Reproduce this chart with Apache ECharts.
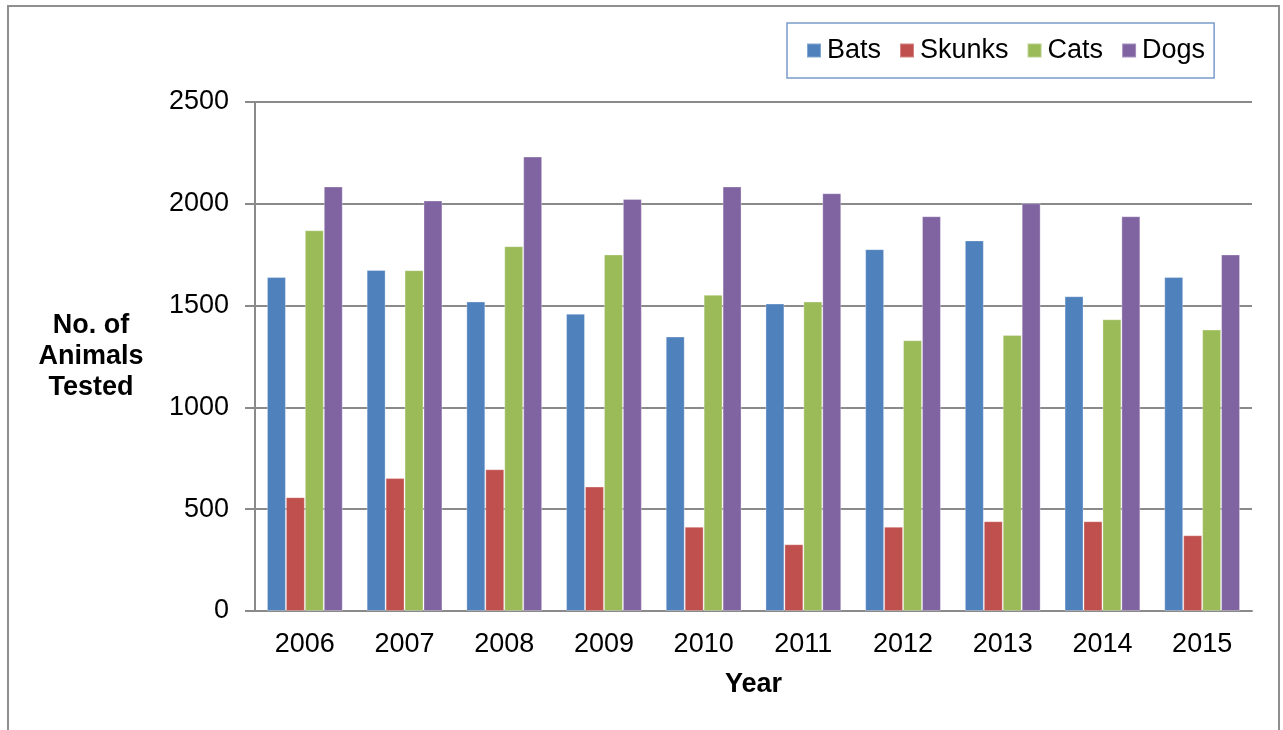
<!DOCTYPE html>
<html>
<head>
<meta charset="utf-8">
<title>No. of Animals Tested by Year</title>
<script src="https://cdn.jsdelivr.net/npm/echarts@6/dist/echarts.min.js"></script>
<style>
  html, body { margin: 0; padding: 0; background: #ffffff; }
  #chart { width: 1283px; height: 730px; }
</style>
</head>
<body>
<div id="chart"></div>
<script>
// Animals tested per year, by species
const years = ['2006', '2007', '2008', '2009', '2010', '2011', '2012', '2013', '2014', '2015'];
const bats   = [1640, 1675, 1520, 1460, 1348, 1510, 1777, 1820, 1546, 1640];
const skunks = [559, 653, 696, 611, 414, 328, 414, 441, 441, 372];
const cats   = [1870, 1674, 1792, 1751, 1553, 1520, 1330, 1356, 1433, 1382];
const dogs   = [2085, 2016, 2232, 2024, 2085, 2052, 1939, 2003, 1939, 1751];
const yTicks = { min: 0, max: 2500, step: 500 };

const FONT = '"Liberation Sans", Arial, sans-serif';
const GRID_GRAY = '#8a8a8a';
const FS = 27;

const seriesDefs = [
  { name: 'Bats',   data: bats,   color: '#4F81BD' },
  { name: 'Skunks', data: skunks, color: '#C0504D' },
  { name: 'Cats',   data: cats,   color: '#9BBB59' },
  { name: 'Dogs',   data: dogs,   color: '#8064A2' }
];

const chart = echarts.init(document.getElementById('chart'), null, { renderer: 'canvas' });

chart.setOption({
  animation: false,
  backgroundColor: '#ffffff',
  textStyle: { fontFamily: FONT },
  graphic: [
    {
      type: 'rect',
      shape: { x: 8, y: 6, width: 1271, height: 740 },
      style: { fill: 'none', stroke: '#8f8f8f', lineWidth: 2 },
      silent: true,
      z: -1
    }
  ],
  legend: {
    data: seriesDefs.map(s => s.name),
    left: 787,
    top: 23,
    icon: 'rect',
    itemWidth: 14,
    itemHeight: 14,
    itemGap: 18,
    padding: [14, 9, 14, 19],
    borderColor: '#7a9ccc',
    borderWidth: 1.5,
    textStyle: { fontFamily: FONT, fontSize: FS, color: '#000000', padding: [0, 0, 0, 1] }
  },
  grid: {
    left: 255,
    right: 31,
    top: 102,
    bottom: 119,
    containLabel: false
  },
  xAxis: {
    type: 'category',
    data: years,
    name: 'Year',
    nameLocation: 'middle',
    nameGap: 74,
    nameTextStyle: { fontFamily: FONT, fontSize: FS, fontWeight: 'bold', color: '#000000', verticalAlign: 'middle' },
    axisLine: { show: true, lineStyle: { color: GRID_GRAY, width: 2 } },
    axisTick: { show: false },
    axisLabel: { fontFamily: FONT, fontSize: FS, color: '#000000', margin: 20 },
    splitLine: { show: false }
  },
  yAxis: {
    type: 'value',
    min: yTicks.min,
    max: yTicks.max,
    interval: yTicks.step,
    name: 'No. of\nAnimals\nTested',
    nameLocation: 'middle',
    nameRotate: 0,
    nameGap: 164,
    nameTextStyle: {
      fontFamily: FONT, fontSize: FS, fontWeight: 'bold', color: '#000000',
      align: 'center', verticalAlign: 'middle', lineHeight: 31
    },
    axisLine: { show: true, lineStyle: { color: GRID_GRAY, width: 2 } },
    axisTick: { show: true, length: 10, lineStyle: { color: GRID_GRAY, width: 2 } },
    axisLabel: {
      fontFamily: FONT, fontSize: FS, color: '#000000', margin: 26,
      formatter: v => String(v)
    },
    splitLine: { show: true, lineStyle: { color: GRID_GRAY, width: 2 } }
  },
  series: seriesDefs.map(s => ({
    name: s.name,
    type: 'bar',
    data: s.data,
    barGap: '0%',
    barCategoryGap: '24%',
    itemStyle: { color: s.color, borderColor: 'rgba(255,255,255,0.3)', borderWidth: 1 },
    emphasis: { disabled: true }
  }))
});
</script>
</body>
</html>
